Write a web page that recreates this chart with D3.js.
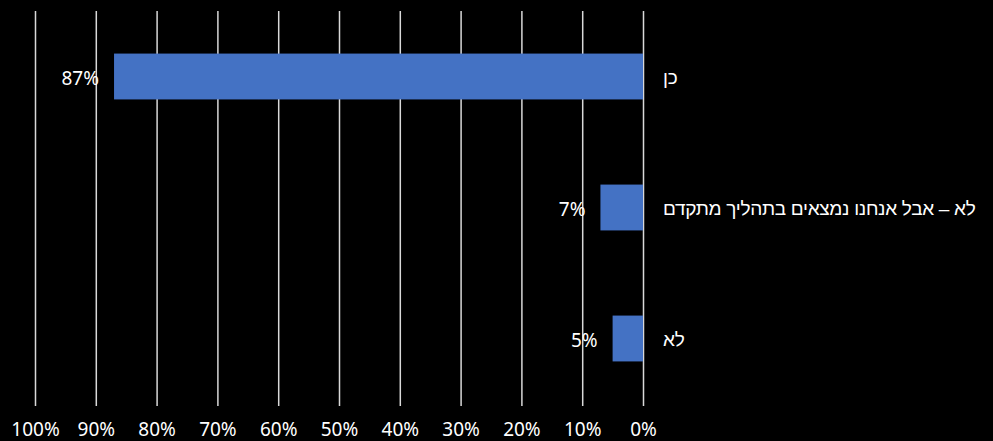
<!DOCTYPE html>
<html>
<head>
<meta charset="utf-8">
<script src="https://cdn.jsdelivr.net/npm/d3@7"></script>
<style>
  html, body { margin: 0; padding: 0; background: #000; }
  svg { display: block; }
</style>
</head>
<body>
<svg id="chart" width="993" height="441"></svg>
<script>
// Survey answers, top to bottom
const categories = ["כן", "לא – אבל אנחנו נמצאים בתהליך מתקדם", "לא"];
const values = [87, 7, 5];
const tickValues = [0, 10, 20, 30, 40, 50, 60, 70, 80, 90, 100];

const svg = d3.select("#chart");
const W = 993, H = 441;
const plot = { left: 35, right: 643, top: 11, bottom: 404 };

svg.append("rect").attr("width", W).attr("height", H).attr("fill", "#000");

// Reversed axis: 0% on the right, 100% on the left
const x = d3.scaleLinear().domain([0, 100]).range([plot.right, plot.left]);
const y = d3.scaleBand().domain(categories).range([plot.top, plot.bottom])
  .paddingInner(0.65).paddingOuter(0.325);

const numFont = "'Noto Sans', 'Open Sans', sans-serif";
const hebFont = "'Liberation Sans', 'DejaVu Sans', sans-serif";

// Vertical gridlines with tick labels
const axis = d3.axisBottom(x)
  .tickValues(tickValues)
  .tickSize(-(406 - plot.top))
  .tickFormat(d => d + "%");

const gx = svg.append("g")
  .attr("transform", `translate(0,406)`)
  .call(axis);
gx.select(".domain").remove();
gx.selectAll(".tick line").attr("stroke", "#d9d9d9").attr("stroke-width", 1.5);
gx.selectAll(".tick text")
  .attr("y", 30).attr("dy", 0)
  .attr("fill", "#fff")
  .style("font-family", numFont)
  .style("font-size", "19px");

// Bars
svg.append("g").selectAll("rect")
  .data(values)
  .join("rect")
  .attr("x", d => x(d))
  .attr("y", (d, i) => y(categories[i]))
  .attr("width", d => x(0) - x(d))
  .attr("height", y.bandwidth())
  .attr("fill", "#4472C4");

// Value labels to the left of each bar
svg.append("g").selectAll("text")
  .data(values)
  .join("text")
  .attr("x", d => x(d) - 15)
  .attr("y", (d, i) => y(categories[i]) + y.bandwidth() / 2)
  .attr("dy", "0.45em")
  .attr("text-anchor", "end")
  .attr("fill", "#fff")
  .style("font-family", numFont)
  .style("font-size", "19px")
  .text(d => d + "%");

// Category labels on the right
svg.append("g").selectAll("text")
  .data(categories)
  .join("text")
  .attr("x", 663)
  .attr("y", d => y(d) + y.bandwidth() / 2)
  .attr("dy", "0.42em")
  .attr("text-anchor", "start")
  .attr("fill", "#fff")
  .style("font-family", hebFont)
  .style("font-size", "19px")
  .style("letter-spacing", "-0.3px")
  .text(d => d);
</script>
</body>
</html>
